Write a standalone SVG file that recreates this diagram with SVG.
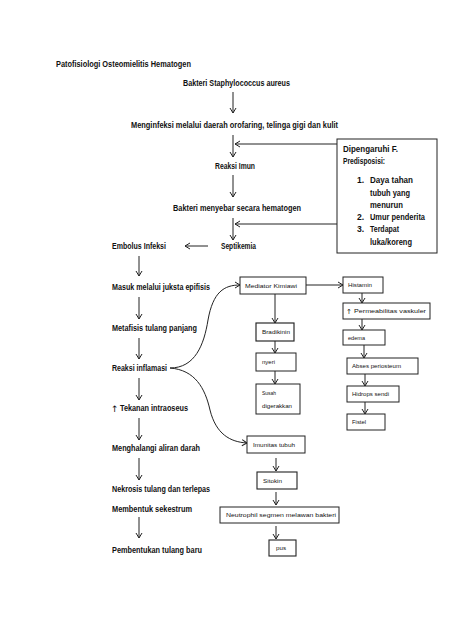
<svg xmlns="http://www.w3.org/2000/svg" width="474" height="632" viewBox="0 0 474 632">
<style>
.t{font-family:"Liberation Sans","DejaVu Sans",sans-serif;font-weight:bold;font-size:8.6px;fill:#111}
.s{font-family:"Liberation Sans","DejaVu Sans",sans-serif;font-size:6px;fill:#111}
.b{fill:#fff;stroke:#222;stroke-width:1}
.c{fill:none;stroke:#222;stroke-width:1;marker-end:url(#ah)}
</style>
<defs>
<marker id="ah" markerWidth="8" markerHeight="8" refX="6" refY="4" orient="auto" markerUnits="userSpaceOnUse">
<path d="M1,1 L6,4 L1,7" fill="none" stroke="#222" stroke-width="1"/>
</marker>
</defs>
<rect width="474" height="632" fill="#fff"/>
<text class="t" x="56" y="67" textLength="135" lengthAdjust="spacingAndGlyphs">Patofisiologi Osteomielitis Hematogen</text>
<g id="connectors">
<line class="c" x1="233" y1="92" x2="233" y2="113"/>
<line class="c" x1="233" y1="135" x2="233" y2="157"/>
<line class="c" x1="233" y1="175" x2="233" y2="197"/>
<line class="c" x1="233" y1="218" x2="233" y2="240"/>
<line class="c" x1="337" y1="144" x2="235" y2="144"/>
<line class="c" x1="337" y1="224" x2="235" y2="224"/>
<line class="c" x1="208" y1="246" x2="185" y2="246"/>
<line class="c" x1="139" y1="256" x2="139" y2="276"/>
<line class="c" x1="139" y1="297" x2="139" y2="319"/>
<line class="c" x1="139" y1="338" x2="139" y2="359"/>
<line class="c" x1="139" y1="378" x2="139" y2="400"/>
<line class="c" x1="139" y1="418" x2="139" y2="440"/>
<line class="c" x1="139" y1="458" x2="139" y2="480"/>
<line class="c" x1="139" y1="517" x2="139" y2="538"/>
<path class="c" d="M170,368 C195,368 204,345 208,320 C213,292 224,285 240,285"/>
<path class="c" d="M170,368 C195,370 205,388 210,410 C216,434 230,442 247,443"/>
<line class="c" x1="306" y1="285" x2="343" y2="285"/>
<line class="c" x1="275" y1="294" x2="275" y2="323"/>
<line class="c" x1="275" y1="341" x2="275" y2="353"/>
<line class="c" x1="275" y1="371" x2="275" y2="384"/>
<line class="c" x1="362" y1="293" x2="362" y2="303"/>
<line class="c" x1="362" y1="319" x2="362" y2="330"/>
<line class="c" x1="364" y1="345" x2="364" y2="358"/>
<line class="c" x1="365" y1="374" x2="365" y2="386"/>
<line class="c" x1="365" y1="402" x2="365" y2="414"/>
<line class="c" x1="276" y1="458" x2="276" y2="471"/>
<line class="c" x1="276" y1="492" x2="276" y2="505"/>
<line class="c" x1="276" y1="526" x2="276" y2="539"/>
</g>
<g id="n-bakteri"><text class="t" x="183" y="86" textLength="107" lengthAdjust="spacingAndGlyphs">Bakteri Staphylococcus aureus</text></g>
<g id="n-menginfeksi"><text class="t" x="131" y="128" textLength="207" lengthAdjust="spacingAndGlyphs">Menginfeksi melalui daerah orofaring, telinga gigi dan kulit</text></g>
<g id="n-reaksi-imun"><text class="t" x="215" y="169" textLength="40" lengthAdjust="spacingAndGlyphs">Reaksi Imun</text></g>
<g id="n-menyebar"><text class="t" x="173" y="211" textLength="128" lengthAdjust="spacingAndGlyphs">Bakteri menyebar secara hematogen</text></g>
<g id="n-septikemia"><text class="t" x="221" y="249" textLength="35" lengthAdjust="spacingAndGlyphs">Septikemia</text></g>
<g id="n-embolus"><text class="t" x="112" y="249" textLength="54" lengthAdjust="spacingAndGlyphs">Embolus Infeksi</text></g>
<g id="n-masuk"><text class="t" x="112" y="290" textLength="98" lengthAdjust="spacingAndGlyphs">Masuk melalui juksta epifisis</text></g>
<g id="n-metafisis"><text class="t" x="112" y="331" textLength="85" lengthAdjust="spacingAndGlyphs">Metafisis tulang panjang</text></g>
<g id="n-inflamasi"><text class="t" x="112" y="371" textLength="55" lengthAdjust="spacingAndGlyphs">Reaksi inflamasi</text></g>
<g id="n-tekanan"><text x="111" y="412" style="font-family:'DejaVu Sans',sans-serif;font-size:9px;fill:#111">↑</text><text class="t" x="120" y="411" textLength="68" lengthAdjust="spacingAndGlyphs">Tekanan intraoseus</text></g>
<g id="n-menghalangi"><text class="t" x="112" y="451" textLength="88" lengthAdjust="spacingAndGlyphs">Menghalangi aliran darah</text></g>
<g id="n-nekrosis"><text class="t" x="112" y="492" textLength="98" lengthAdjust="spacingAndGlyphs">Nekrosis tulang dan terlepas</text></g>
<g id="n-sekestrum"><text class="t" x="112" y="512" textLength="80" lengthAdjust="spacingAndGlyphs">Membentuk sekestrum</text></g>
<g id="n-tulang-baru"><text class="t" x="112" y="553" textLength="90" lengthAdjust="spacingAndGlyphs">Pembentukan tulang baru</text></g>
<g id="n-predisposisi">
<rect class="b" x="337" y="139" width="100" height="114"/>
<text class="t" x="343" y="152" textLength="55" lengthAdjust="spacingAndGlyphs">Dipengaruhi F.</text>
<text class="t" x="343" y="164" textLength="42" lengthAdjust="spacingAndGlyphs">Predisposisi:</text>
<text class="t" x="357" y="183">1.</text><text class="t" x="370" y="183" textLength="43" lengthAdjust="spacingAndGlyphs">Daya tahan</text>
<text class="t" x="370" y="196" textLength="40" lengthAdjust="spacingAndGlyphs">tubuh yang</text>
<text class="t" x="370" y="208" textLength="33" lengthAdjust="spacingAndGlyphs">menurun</text>
<text class="t" x="357" y="220">2.</text><text class="t" x="370" y="220" textLength="55" lengthAdjust="spacingAndGlyphs">Umur penderita</text>
<text class="t" x="357" y="232">3.</text><text class="t" x="370" y="232" textLength="29" lengthAdjust="spacingAndGlyphs">Terdapat</text>
<text class="t" x="370" y="245" textLength="42" lengthAdjust="spacingAndGlyphs">luka/koreng</text>
</g>
<g id="n-mediator"><rect class="b" x="240" y="277" width="66" height="17"/><text class="s" x="245" y="287.5" textLength="52" lengthAdjust="spacingAndGlyphs">Mediator Kimiawi</text></g>
<g id="n-histamin"><rect class="b" x="343" y="277" width="40" height="16"/><text class="s" x="348" y="287" textLength="24" lengthAdjust="spacingAndGlyphs">Histamin</text></g>
<g id="n-permeabilitas"><rect class="b" x="343" y="303" width="87" height="16"/><text x="346" y="314" style="font-family:'DejaVu Sans',sans-serif;font-size:7px;fill:#111">↑</text><text class="s" x="354" y="313" textLength="72" lengthAdjust="spacingAndGlyphs">Permeabilitas vaskuler</text></g>
<g id="n-edema"><rect class="b" x="343" y="330" width="42" height="15"/><text class="s" x="348" y="339.5" textLength="17" lengthAdjust="spacingAndGlyphs">edema</text></g>
<g id="n-abses"><rect class="b" x="347" y="358" width="71" height="16"/><text class="s" x="352" y="368" textLength="49" lengthAdjust="spacingAndGlyphs">Abses periosteum</text></g>
<g id="n-hidrops"><rect class="b" x="347" y="386" width="52" height="16"/><text class="s" x="352" y="396" textLength="37" lengthAdjust="spacingAndGlyphs">Hidrops sendi</text></g>
<g id="n-fistel"><rect class="b" x="347" y="414" width="38" height="16"/><text class="s" x="352" y="424" textLength="14" lengthAdjust="spacingAndGlyphs">Fistel</text></g>
<g id="n-bradikinin"><rect class="b" x="256" y="323" width="38" height="18" style="stroke-width:1.15"/><text class="s" x="262" y="334" textLength="28" lengthAdjust="spacingAndGlyphs">Bradikinin</text></g>
<g id="n-nyeri"><rect class="b" x="256" y="353" width="40" height="18"/><text class="s" x="262" y="364" textLength="13" lengthAdjust="spacingAndGlyphs">nyeri</text></g>
<g id="n-susah"><rect class="b" x="256" y="384" width="44" height="30"/><text class="s" x="262" y="395" textLength="14" lengthAdjust="spacingAndGlyphs">Susah</text><text class="s" x="262" y="408" textLength="30" lengthAdjust="spacingAndGlyphs">digerakkan</text></g>
<g id="n-imunitas"><rect class="b" x="247" y="436" width="58" height="17"/><text class="s" x="253" y="446.5" textLength="42" lengthAdjust="spacingAndGlyphs">Imunitas tubuh</text></g>
<g id="n-sitokin"><rect class="b" x="257" y="472" width="40" height="17" style="stroke-width:1.1"/><text class="s" x="263" y="482.5" textLength="19" lengthAdjust="spacingAndGlyphs">Sitokin</text></g>
<g id="n-neutrophil"><rect class="b" x="220" y="507" width="119" height="16"/><text class="s" x="226" y="517" textLength="110" lengthAdjust="spacingAndGlyphs">Neutrophil segmen melawan bakteri</text></g>
<g id="n-pus"><rect class="b" x="269" y="540" width="27" height="16" style="stroke-width:1.1"/><text class="s" x="276" y="550" textLength="10" lengthAdjust="spacingAndGlyphs">pus</text></g>
</svg>
